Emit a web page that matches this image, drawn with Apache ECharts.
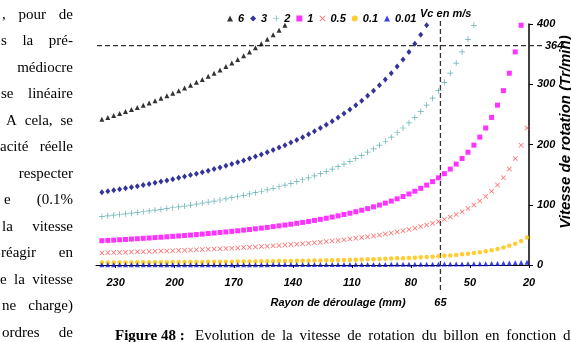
<!DOCTYPE html>
<html><head><meta charset="utf-8">
<script src="https://cdn.jsdelivr.net/npm/echarts@6/dist/echarts.min.js"></script>
<style>html,body{margin:0;padding:0;background:#fff}#c{width:571px;height:342px}</style>
</head><body><div id="c"></div>
<script>
// Rayon de déroulage (mm), left to right
const radius = [237,234,231,228,225,222,219,216,213,210,
  207,204,201,198,195,192,189,186,183,180,
  177,174,171,168,165,162,159,156,153,150,
  147,144,141,138,135,132,129,126,123,120,
  117,114,111,108,105,102,99,96,93,90,
  87,84,81,78,75,72,69,66,63,60,
  57,54,51,48,45,42,39,36,33,30,
  27,24,21];
// Vitesse de rotation (Tr/min) per cutting speed Vc (m/s)
const vc6 = [241.8,244.9,248.0,251.3,254.6,258.1,261.6,265.3,269.0,272.8,
  276.8,280.9,285.1,289.4,293.8,298.4,303.2,308.0,313.1,318.3,
  323.7,329.3,335.1,341.0,347.2,353.7,360.4,367.3,374.5,382.0,
  389.8,397.9,null,null,null,null,null,null,null,null,
  null,null,null,null,null,null,null,null,null,null,
  null,null,null,null,null,null,null,null,null,null,
  null,null,null,null,null,null,null,null,null,null,
  null,null,null];
const vc3 = [120.9,122.4,124.0,125.6,127.3,129.0,130.8,132.6,134.5,136.4,
  138.4,140.4,142.5,144.7,146.9,149.2,151.6,154.0,156.5,159.2,
  161.9,164.6,167.5,170.5,173.6,176.8,180.2,183.6,187.2,191.0,
  194.9,198.9,203.2,207.6,212.2,217.0,222.1,227.4,232.9,238.7,
  244.9,251.3,258.1,265.3,272.8,280.9,289.4,298.4,308.0,318.3,
  329.3,341.0,353.7,367.3,382.0,397.9,null,null,null,null,
  null,null,null,null,null,null,null,null,null,null,
  null,null,null];
const vc2 = [80.6,81.6,82.7,83.8,84.9,86.0,87.2,88.4,89.7,90.9,
  92.3,93.6,95.0,96.5,97.9,99.5,101.1,102.7,104.4,106.1,
  107.9,109.8,111.7,113.7,115.7,117.9,120.1,122.4,124.8,127.3,
  129.9,132.6,135.5,138.4,141.5,144.7,148.1,151.6,155.3,159.2,
  163.2,167.5,172.1,176.8,181.9,187.2,192.9,198.9,205.4,212.2,
  219.5,227.4,235.8,244.9,254.6,265.3,276.8,289.4,303.2,318.3,
  335.1,353.7,374.5,397.9,null,null,null,null,null,null,
  null,null,null];
const vc1 = [40.3,40.8,41.3,41.9,42.4,43.0,43.6,44.2,44.8,45.5,
  46.1,46.8,47.5,48.2,49.0,49.7,50.5,51.3,52.2,53.1,
  54.0,54.9,55.8,56.8,57.9,58.9,60.1,61.2,62.4,63.7,
  65.0,66.3,67.7,69.2,70.7,72.3,74.0,75.8,77.6,79.6,
  81.6,83.8,86.0,88.4,90.9,93.6,96.5,99.5,102.7,106.1,
  109.8,113.7,117.9,122.4,127.3,132.6,138.4,144.7,151.6,159.2,
  167.5,176.8,187.2,198.9,212.2,227.4,244.9,265.3,289.4,318.3,
  353.7,397.9,null];
const vc05 = [20.1,20.4,20.7,20.9,21.2,21.5,21.8,22.1,22.4,22.7,
  23.1,23.4,23.8,24.1,24.5,24.9,25.3,25.7,26.1,26.5,
  27.0,27.4,27.9,28.4,28.9,29.5,30.0,30.6,31.2,31.8,
  32.5,33.2,33.9,34.6,35.4,36.2,37.0,37.9,38.8,39.8,
  40.8,41.9,43.0,44.2,45.5,46.8,48.2,49.7,51.3,53.1,
  54.9,56.8,58.9,61.2,63.7,66.3,69.2,72.3,75.8,79.6,
  83.8,88.4,93.6,99.5,106.1,113.7,122.4,132.6,144.7,159.2,
  176.8,198.9,227.4];
const vc01 = [4.0,4.1,4.1,4.2,4.2,4.3,4.4,4.4,4.5,4.5,
  4.6,4.7,4.8,4.8,4.9,5.0,5.1,5.1,5.2,5.3,
  5.4,5.5,5.6,5.7,5.8,5.9,6.0,6.1,6.2,6.4,
  6.5,6.6,6.8,6.9,7.1,7.2,7.4,7.6,7.8,8.0,
  8.2,8.4,8.6,8.8,9.1,9.4,9.6,9.9,10.3,10.6,
  11.0,11.4,11.8,12.2,12.7,13.3,13.8,14.5,15.2,15.9,
  16.8,17.7,18.7,19.9,21.2,22.7,24.5,26.5,28.9,31.8,
  35.4,39.8,45.5];
const vc001 = [0.40,0.41,0.41,0.42,0.42,0.43,0.44,0.44,0.45,0.45,
  0.46,0.47,0.48,0.48,0.49,0.50,0.51,0.51,0.52,0.53,
  0.54,0.55,0.56,0.57,0.58,0.59,0.60,0.61,0.62,0.64,
  0.65,0.66,0.68,0.69,0.71,0.72,0.74,0.76,0.78,0.80,
  0.82,0.84,0.86,0.88,0.91,0.94,0.96,0.99,1.03,1.06,
  1.10,1.14,1.18,1.22,1.27,1.33,1.38,1.45,1.52,1.59,
  1.68,1.77,1.87,1.99,2.12,2.27,2.45,2.65,2.89,3.18,
  3.54,3.98,4.55];
const seriesNames = ['6','3','2','1','0.5','0.1','0.01'];
const xTicks = [230,200,170,140,110,80,50,20];
const refRadius = 65;
const refSpeed = 364;

// surrounding document text: [text, left start (null = right aligned)]
const docLines = [
  [', pour de', 2], ['s la pré-', 1], ['médiocre', null], ['se linéaire', 1],
  ['A cela, se', 6], ['acité réelle', 0], ['respecter', null], ['e (0.1%', 4],
  ['la vitesse', 2], ['réagir en', 1], ['e la vitesse', 0], ['ne charge)', 2],
  ['ordres de', 2]
];
const captionBold = 'Figure 48 :';
const captionRest = 'Evolution de la vitesse de rotation du billon en fonction du';

const FONT = '"Liberation Sans", Arial, sans-serif';
const SERIF = '"Liberation Serif", "Times New Roman", serif';
const lblStyle = {fontFamily: FONT, fontSize: 11, fontWeight: 'bold', fontStyle: 'italic', color: '#000'};

const plusPath = 'path://M0,4.4H10V5.6H0Z M4.4,0H5.6V10H4.4Z';
const xPath = 'path://M0,1L1,0L5,4L9,0L10,1L6,5L10,9L9,10L5,6L1,10L0,9L4,5Z';
const styles = [
  {symbol: 'triangle', size: 5, color: '#000000'},
  {symbol: 'diamond', size: [5, 6], color: '#000080'},
  {symbol: plusPath, size: 6, color: '#3a9c9c'},
  {symbol: 'rect', size: 5, color: '#ff00ff'},
  {symbol: xPath, size: 5, color: '#ff3b3b'},
  {symbol: 'circle', size: 4.5, color: '#ffc000'},
  {symbol: 'triangle', size: 5, color: '#0a14e6'}
];
const values = [vc6, vc3, vc2, vc1, vc05, vc01, vc001];

const chart = echarts.init(document.getElementById('c'), null, {renderer: 'canvas'});
const series = values.map((vals, k) => ({
  name: seriesNames[k],
  type: 'scatter',
  symbol: styles[k].symbol,
  symbolSize: styles[k].size,
  itemStyle: {color: styles[k].color},
  clip: true,
  animation: false,
  data: radius.map((r, i) => vals[i] == null ? null : [r, vals[i]]).filter(d => d)
}));

chart.setOption({
  animation: false,
  backgroundColor: '#fff',
  grid: {left: 96, right: 42, top: 24, bottom: 77},
  legend: {
    data: seriesNames, left: 222, top: 8, itemWidth: 6, itemHeight: 6, itemGap: 6,
    textStyle: lblStyle, selectedMode: false
  },
  xAxis: {
    type: 'value', min: 20, max: 240, inverse: true,
    axisLine: {show: true, lineStyle: {color: '#000', width: 1}},
    axisTick: {show: true, customValues: xTicks, length: 3, lineStyle: {color: '#000'}},
    axisLabel: Object.assign({customValues: xTicks, margin: 12}, lblStyle),
    splitLine: {show: false}
  },
  yAxis: {
    type: 'value', position: 'right', min: 0, max: 400, interval: 100,
    axisLine: {show: true, onZero: false, lineStyle: {color: '#000', width: 1.5}},
    axisTick: {show: true, length: 4, lineStyle: {color: '#000'}},
    axisLabel: Object.assign({margin: 8}, lblStyle),
    splitLine: {show: false}
  },
  series: series
});

// reference lines & texts
const pRef = chart.convertToPixel({gridIndex: 0}, [refRadius, refSpeed]);
const pLeft = chart.convertToPixel({gridIndex: 0}, [240, 0]);
const pRight = chart.convertToPixel({gridIndex: 0}, [20, 0]);
const dash = {stroke: '#333', lineWidth: 1.3, lineDash: [5, 3]};

const cv = document.createElement('canvas').getContext('2d');
function measure(t, font) { cv.font = font; return cv.measureText(t).width; }
const graphics = [];
graphics.push({type: 'line', shape: {x1: pLeft[0] + 1, y1: pRef[1], x2: pRight[0] + 14, y2: pRef[1]}, style: dash, z: 1});
graphics.push({type: 'line', shape: {x1: pRef[0], y1: 21, x2: pRef[0], y2: 291}, style: dash, z: 1});
graphics.push({type: 'text', x: pRight[0] + 16, y: pRef[1], style: {text: String(refSpeed), textVerticalAlign: 'middle', font: 'italic bold 11px ' + FONT, fill: '#000'}});
graphics.push({type: 'text', x: pRef[0], y: 303, style: {text: String(refRadius), textAlign: 'center', textVerticalAlign: 'middle', font: 'italic bold 11px ' + FONT, fill: '#000'}});
graphics.push({type: 'text', x: 338, y: 303, style: {text: 'Rayon de déroulage (mm)', textAlign: 'center', textVerticalAlign: 'middle', font: 'italic bold 11px ' + FONT, fill: '#000'}});
graphics.push({type: 'text', x: 420, y: 14, style: {text: 'Vc en m/s', textVerticalAlign: 'middle', font: 'italic bold 11px ' + FONT, fill: '#000'}});
graphics.push({type: 'text', x: 566, y: 132, rotation: Math.PI / 2, style: {text: 'Vitesse de rotation (Tr/min)', textAlign: 'center', textVerticalAlign: 'middle', font: 'italic bold 15px ' + FONT, fill: '#000'}});

// document text (justified lines)
const docFont = '15px ' + SERIF;
const docRight = 73;
function justify(text, x0, x1, y, font) {
  const words = text.split(' ');
  if (x0 == null || words.length === 1) {
    graphics.push({type: 'text', x: x1, y: y, style: {text: text, textAlign: 'right', textVerticalAlign: 'middle', font: font, fill: '#000'}});
    return;
  }
  const widths = words.map(w => measure(w, font));
  const total = widths.reduce((a, b) => a + b, 0);
  const gap = Math.max(3, (x1 - x0 - total) / (words.length - 1));
  let x = x0;
  words.forEach((w, i) => {
    graphics.push({type: 'text', x: x, y: y, style: {text: w, textVerticalAlign: 'middle', font: font, fill: '#000'}});
    x += widths[i] + gap;
  });
}
docLines.forEach((l, i) => justify(l[0], l[1], docRight, 15 + 26.5 * i, docFont));
const capY = 336;
graphics.push({type: 'text', x: 115, y: capY, style: {text: captionBold, textVerticalAlign: 'middle', font: 'bold 15px ' + SERIF, fill: '#000'}});
justify(captionRest, 195, 578, capY, docFont);

chart.setOption({graphic: graphics});
</script></body></html>
